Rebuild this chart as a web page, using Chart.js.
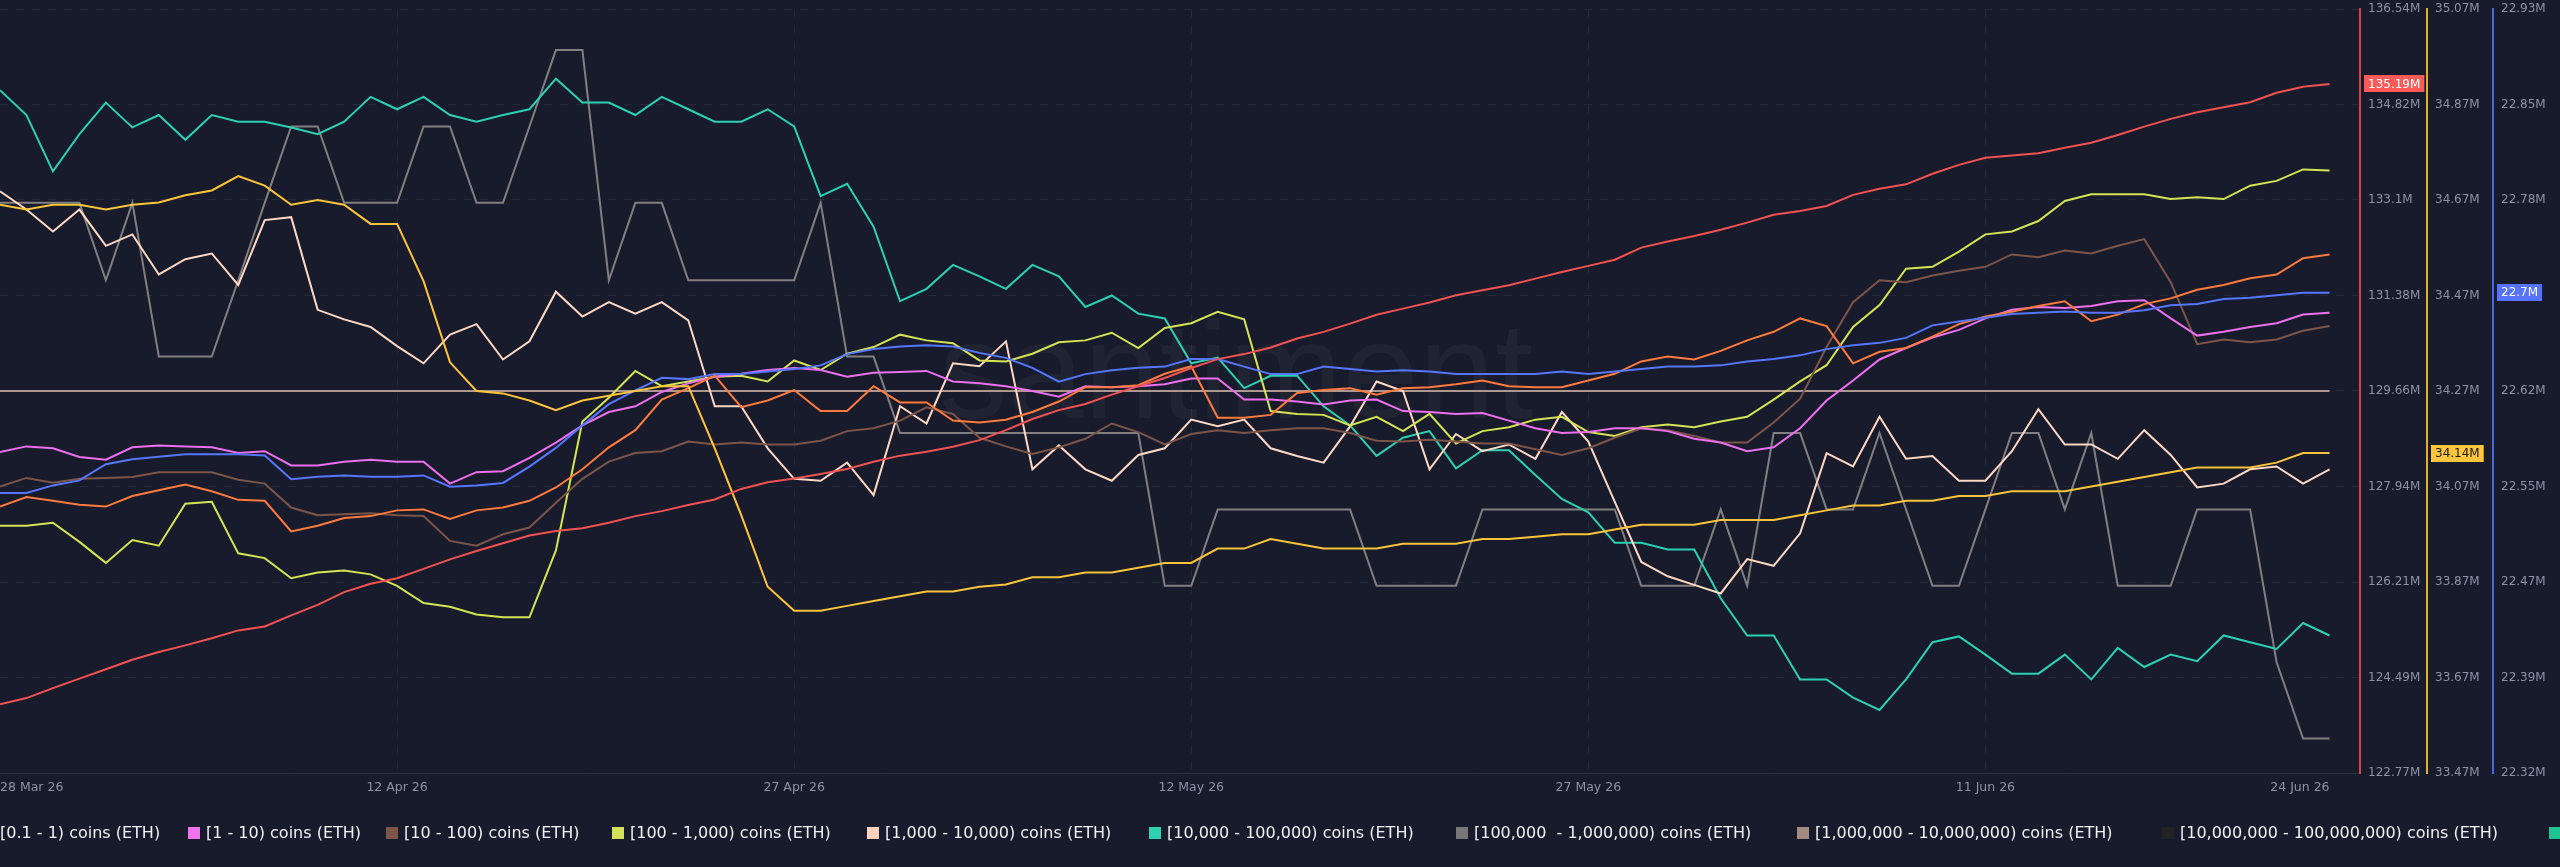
<!DOCTYPE html>
<html><head><meta charset="utf-8">
<script src="https://cdn.jsdelivr.net/npm/chart.js@4.4.1/dist/chart.umd.min.js"></script>
<style>
html,body{margin:0;padding:0;background:#181b2b;overflow:hidden;}
#wrap{position:relative;width:2560px;height:867px;background:#181b2b;}
#c{position:absolute;left:0;top:0;}
#legend{position:absolute;left:0;top:0;width:2560px;height:867px;pointer-events:none;font-family:"DejaVu Sans",sans-serif;font-size:16px;color:#f0f1f5;overflow:hidden;}
.lt{position:absolute;top:824px;white-space:pre;line-height:18px;}
.lb{position:absolute;top:827px;width:12px;height:12px;box-sizing:border-box;}
</style></head>
<body>
<div id="wrap">
<canvas id="c" width="2560" height="867"></canvas>
<div id="legend"></div>
</div>
<script>
// ---- x axis (day index from 28 Mar 26) ----
const xTickDays = [0, 15, 30, 45, 60, 75, 88];
const xTickLabels = ['28 Mar 26', '12 Apr 26', '27 Apr 26', '12 May 26', '27 May 26', '11 Jun 26', '24 Jun 26'];

// ---- right axis tick labels ----
const redTicks = ['122.77M','124.49M','126.21M','127.94M','129.66M','131.38M','133.1M','134.82M','136.54M'];
const goldTicks = ['33.47M','33.67M','33.87M','34.07M','34.27M','34.47M','34.67M','34.87M','35.07M'];
const blueTicks = ['22.32M','22.39M','22.47M','22.55M','22.62M','22.7M','22.78M','22.85M','22.93M'];

// ---- series on visible axes (millions of ETH) ----
const redSeries = [124.01,124.12,124.30,124.47,124.64,124.81,124.95,125.07,125.20,125.34,
125.41,125.61,125.80,126.03,126.18,126.28,126.45,126.62,126.77,126.91,
127.05,127.13,127.18,127.28,127.40,127.49,127.60,127.70,127.89,128.01,
128.08,128.16,128.25,128.38,128.49,128.56,128.65,128.77,128.95,129.15,
129.31,129.42,129.59,129.74,129.89,130.07,130.23,130.32,130.44,130.60,
130.72,130.87,131.03,131.14,131.25,131.38,131.47,131.56,131.68,131.80,
131.91,132.02,132.24,132.35,132.45,132.56,132.69,132.83,132.90,132.99,
133.19,133.30,133.38,133.57,133.73,133.86,133.90,133.94,134.04,134.13,
134.27,134.42,134.56,134.68,134.77,134.86,135.03,135.14,135.19];

const goldSeries = [34.66,34.65,34.66,34.66,34.65,34.66,34.665,34.68,34.69,34.72,
34.70,34.66,34.67,34.66,34.62,34.62,34.50,34.33,34.27,34.265,
34.25,34.23,34.25,34.26,34.27,34.28,34.28,34.15,34.01,33.86,
33.81,33.81,33.82,33.83,33.84,33.85,33.85,33.86,33.865,33.88,
33.88,33.89,33.89,33.90,33.91,33.91,33.94,33.94,33.96,33.95,
33.94,33.94,33.94,33.95,33.95,33.95,33.96,33.96,33.965,33.97,
33.97,33.98,33.99,33.99,33.99,34.00,34.00,34.00,34.01,34.02,
34.03,34.03,34.04,34.04,34.05,34.05,34.06,34.06,34.06,34.07,
34.08,34.09,34.10,34.11,34.11,34.11,34.12,34.14,34.14];

const blueSeries = [22.542,22.542,22.548,22.552,22.565,22.569,22.571,22.573,22.573,22.573,
22.572,22.553,22.555,22.556,22.555,22.555,22.556,22.547,22.548,22.550,
22.563,22.578,22.596,22.613,22.624,22.634,22.633,22.637,22.637,22.639,
22.641,22.644,22.653,22.657,22.659,22.660,22.659,22.654,22.650,22.642,
22.631,22.637,22.640,22.642,22.643,22.649,22.649,22.643,22.637,22.637,
22.643,22.641,22.639,22.640,22.639,22.637,22.637,22.637,22.637,22.639,
22.637,22.639,22.641,22.643,22.643,22.644,22.647,22.649,22.652,22.657,
22.660,22.662,22.666,22.676,22.679,22.682,22.685,22.686,22.687,22.686,
22.686,22.688,22.692,22.693,22.697,22.698,22.700,22.702,22.702];

// ---- series on hidden auto-scaled axes (relative level, 0 = bottom, 8 = top) ----
const orangeSeries = [2.79,2.89,2.85,2.81,2.79,2.90,2.96,3.02,2.95,2.86,
2.85,2.53,2.59,2.67,2.69,2.75,2.76,2.66,2.75,2.78,
2.85,2.99,3.18,3.41,3.59,3.91,4.03,4.16,3.83,3.90,
4.01,3.79,3.79,4.05,3.88,3.88,3.69,3.67,3.70,3.78,
3.89,4.04,4.04,4.06,4.18,4.26,3.72,3.72,3.75,3.98,
4.01,4.03,3.96,4.03,4.04,4.07,4.11,4.05,4.04,4.04,
4.11,4.18,4.31,4.36,4.33,4.42,4.53,4.62,4.76,4.68,
4.29,4.41,4.45,4.57,4.70,4.78,4.83,4.89,4.94,4.73,
4.80,4.91,4.97,5.06,5.11,5.18,5.22,5.39,5.43];

const pinkSeries = [3.36,3.42,3.40,3.31,3.28,3.41,3.43,3.42,3.41,3.35,
3.37,3.22,3.22,3.26,3.28,3.26,3.26,3.03,3.15,3.16,
3.30,3.46,3.64,3.78,3.84,3.99,4.08,4.15,4.18,4.22,
4.24,4.22,4.15,4.19,4.20,4.21,4.10,4.08,4.05,4.00,
3.94,4.05,4.04,4.05,4.07,4.13,4.13,3.91,3.91,3.89,
3.86,3.90,3.91,3.79,3.78,3.76,3.77,3.69,3.61,3.56,
3.57,3.61,3.61,3.58,3.50,3.46,3.37,3.41,3.61,3.90,
4.11,4.33,4.45,4.56,4.64,4.76,4.85,4.88,4.87,4.89,
4.94,4.95,4.76,4.58,4.62,4.67,4.71,4.80,4.82];

const brownSeries = [3.00,3.09,3.04,3.08,3.09,3.10,3.15,3.15,3.15,3.07,
3.03,2.78,2.70,2.71,2.72,2.70,2.69,2.43,2.38,2.50,
2.57,2.83,3.08,3.26,3.35,3.37,3.47,3.44,3.46,3.44,
3.44,3.48,3.58,3.61,3.69,3.83,3.76,3.51,3.42,3.34,
3.41,3.50,3.66,3.57,3.44,3.55,3.59,3.56,3.59,3.61,
3.61,3.56,3.48,3.47,3.49,3.47,3.45,3.45,3.39,3.33,
3.40,3.51,3.61,3.59,3.53,3.46,3.46,3.67,3.92,4.46,
4.93,5.16,5.14,5.21,5.26,5.30,5.43,5.40,5.47,5.44,
5.52,5.59,5.14,4.49,4.54,4.51,4.54,4.63,4.68];

const limeSeries = [2.59,2.59,2.62,2.42,2.20,2.44,2.38,2.82,2.84,2.30,
2.25,2.04,2.10,2.12,2.08,1.96,1.78,1.74,1.66,1.63,
1.63,2.33,3.68,3.93,4.21,4.05,4.10,4.15,4.16,4.10,
4.32,4.22,4.39,4.46,4.59,4.53,4.50,4.32,4.31,4.39,
4.51,4.53,4.61,4.45,4.66,4.71,4.83,4.75,3.79,3.76,
3.75,3.64,3.73,3.58,3.76,3.45,3.58,3.62,3.70,3.73,
3.57,3.53,3.62,3.65,3.62,3.68,3.73,3.91,4.10,4.27,
4.67,4.90,5.28,5.30,5.46,5.64,5.67,5.78,5.99,6.06,
6.06,6.06,6.01,6.03,6.01,6.15,6.20,6.32,6.31];

const peachSeries = [6.09,5.90,5.67,5.90,5.52,5.64,5.22,5.38,5.44,5.11,
5.79,5.82,4.85,4.75,4.67,4.47,4.29,4.59,4.70,4.33,
4.52,5.04,4.78,4.93,4.81,4.93,4.74,3.84,3.84,3.40,
3.08,3.06,3.25,2.91,3.84,3.66,4.29,4.26,4.52,3.18,
3.43,3.18,3.06,3.33,3.40,3.70,3.63,3.70,3.40,3.32,
3.25,3.63,4.10,4.00,3.18,3.55,3.37,3.44,3.29,3.78,
3.47,2.84,2.21,2.06,1.97,1.88,2.24,2.17,2.51,3.35,
3.21,3.73,3.29,3.32,3.06,3.06,3.37,3.81,3.44,3.44,
3.29,3.59,3.33,2.99,3.03,3.18,3.21,3.03,3.18];

const tealSeries = [7.15,6.89,6.30,6.69,7.02,6.76,6.89,6.63,6.89,6.82,
6.82,6.76,6.69,6.82,7.08,6.95,7.08,6.89,6.82,6.89,
6.95,7.27,7.02,7.02,6.89,7.08,6.95,6.82,6.82,6.95,
6.77,6.04,6.17,5.72,4.94,5.07,5.32,5.20,5.07,5.32,
5.20,4.88,5.00,4.81,4.76,4.29,4.35,4.03,4.16,4.16,
3.84,3.64,3.32,3.51,3.58,3.19,3.38,3.38,3.12,2.87,
2.73,2.41,2.41,2.34,2.34,1.83,1.44,1.44,0.98,0.98,
0.79,0.66,0.98,1.37,1.43,1.24,1.04,1.04,1.24,0.98,
1.31,1.11,1.24,1.17,1.44,1.37,1.30,1.57,1.44];

const graySeries = [5.97,5.97,5.97,5.97,5.16,5.97,4.36,4.36,4.36,5.16,
5.97,6.77,6.77,5.97,5.97,5.97,6.77,6.77,5.97,5.97,
6.77,7.57,7.57,5.16,5.97,5.97,5.16,5.16,5.16,5.16,
5.16,5.97,4.36,4.36,3.56,3.56,3.56,3.56,3.56,3.56,
3.56,3.56,3.56,3.56,1.96,1.96,2.76,2.76,2.76,2.76,
2.76,2.76,1.96,1.96,1.96,1.96,2.76,2.76,2.76,2.76,
2.76,2.76,1.96,1.96,1.96,2.76,1.96,3.56,3.56,2.76,
2.76,3.56,2.76,1.96,1.96,2.76,3.56,3.56,2.76,3.56,
1.96,1.96,1.96,2.76,2.76,2.76,1.16,0.36,0.36];

const tanSeries = [4,4,4,4,4,4,4,4,4,4,
4,4,4,4,4,4,4,4,4,4,
4,4,4,4,4,4,4,4,4,4,
4,4,4,4,4,4,4,4,4,4,
4,4,4,4,4,4,4,4,4,4,
4,4,4,4,4,4,4,4,4,4,
4,4,4,4,4,4,4,4,4,4,
4,4,4,4,4,4,4,4,4,4,
4,4,4,4,4,4,4,4,4];

// ---- legend (visible part of a scrolled legend strip) ----
const legendLabels = ['[0.1 - 1) coins (ETH)','[1 - 10) coins (ETH)','[10 - 100) coins (ETH)','[100 - 1,000) coins (ETH)',
  '[1,000 - 10,000) coins (ETH)','[10,000 - 100,000) coins (ETH)','[100,000  - 1,000,000) coins (ETH)',
  '[1,000,000 - 10,000,000) coins (ETH)','[10,000,000 - 100,000,000) coins (ETH)', ''];
const legendColors = ['#ff7a3d','#ef72ef','#7a5548','#d4e157','#ffd2bd','#2cd3b3','#777777','#a48a82','#232323','#1fc394'];
const legendBoxX = [-18, 188, 386, 612, 867, 1149, 1456, 1797, 2162, 2549];

const C = {
  red:'#f25252', gold:'#ffc53a', blue:'#5577ff', orange:'#ff7a3d', pink:'#ee6ff0', brown:'#7d5548',
  lime:'#d6e454', peach:'#ffd8c4', teal:'#2bd1b0', gray:'#808080', tan:'#ae978f',
  grid:'#252a3b', tick:'#8c92a4'
};

const toXY = arr => arr.map((v, i) => ({x: i, y: v}));
function ds(label, data, color, axis) {
  return {label, data: toXY(data), borderColor: color, backgroundColor: color, yAxisID: axis,
    borderWidth: 2, pointRadius: 0, tension: 0, fill: false};
}

// legend build
const lg = document.getElementById('legend');
legendLabels.forEach((t, i) => {
  const b = document.createElement('div');
  b.className = 'lb'; b.style.left = legendBoxX[i] + 'px'; b.style.background = legendColors[i];
  lg.appendChild(b);
  if (t) {
    const s = document.createElement('div');
    s.className = 'lt'; s.style.left = (legendBoxX[i] + 18) + 'px'; s.textContent = t;
    lg.appendChild(s);
  }
});

const fmtM = v => parseFloat(v.toFixed(2)) + 'M';

const tagPlugin = {
  id: 'tags',
  afterDraw(chart) {
    const ctx = chart.ctx;
    const defs = [
      {axis: 'yRed', v: redSeries[redSeries.length - 1], bg: '#ff5a5a', fg: '#ffffff'},
      {axis: 'yGold', v: goldSeries[goldSeries.length - 1], bg: '#ffc53d', fg: '#15171f'},
      {axis: 'yBlue', v: blueSeries[blueSeries.length - 1], bg: '#5573ff', fg: '#ffffff'}
    ];
    ctx.save();
    ctx.font = '12px "DejaVu Sans"';
    ctx.textBaseline = 'middle';
    defs.forEach(d => {
      const s = chart.scales[d.axis];
      const y = s.getPixelForValue(d.v);
      const txt = fmtM(d.v);
      const w = ctx.measureText(txt).width + 8;
      const x = s.left + 4;
      ctx.fillStyle = d.bg;
      ctx.fillRect(x, Math.round(y - 8.5), w, 17);
      ctx.fillStyle = d.fg;
      ctx.fillText(txt, x + 4, y + 0.5);
    });
    ctx.restore();
  }
};

const watermark = {
  id: 'watermark',
  beforeDatasetsDraw(chart) {
    const ctx = chart.ctx;
    ctx.save();
    ctx.font = '137px "Liberation Sans"';
    ctx.fillStyle = 'rgba(255,255,255,0.035)';
    ctx.textAlign = 'center';
    ctx.textBaseline = 'alphabetic';
    ctx.fillText('santiment', 1236, 418);
    ctx.restore();
  }
};

function rightAxis(min, max, labels, border, weight, width, grid) {
  return {
    position: 'right', weight, min, max,
    afterBuildTicks: s => { s.ticks = labels.map((t, i) => ({value: min + i * (max - min) / 8})); },
    ticks: {callback: (v, i) => labels[i], color: C.tick, font: {family: 'DejaVu Sans', size: 12}, padding: 0, autoSkip: false},
    grid: grid ? {display: true, drawOnChartArea: true, color: C.grid, drawTicks: true, tickLength: 8, tickColor: 'rgba(0,0,0,0)'}
               : {display: true, drawOnChartArea: false, drawTicks: true, tickLength: 8, tickColor: 'rgba(0,0,0,0)'},
    border: {display: true, color: border, width: 2, dash: [8, 8]},
    afterFit: s => { s.width = width; }
  };
}

new Chart(document.getElementById('c'), {
  type: 'line',
  data: {
    datasets: [
      ds('[0 - 0.001) coins (ETH)', redSeries, C.red, 'yRed'),
      ds('[0.001 - 0.01) coins (ETH)', goldSeries, C.gold, 'yGold'),
      ds('[0.01 - 0.1) coins (ETH)', blueSeries, C.blue, 'yBlue'),
      ds('[0.1 - 1) coins (ETH)', orangeSeries, C.orange, 'yRel'),
      ds('[1 - 10) coins (ETH)', pinkSeries, C.pink, 'yRel'),
      ds('[10 - 100) coins (ETH)', brownSeries, C.brown, 'yRel'),
      ds('[100 - 1,000) coins (ETH)', limeSeries, C.lime, 'yRel'),
      ds('[1,000 - 10,000) coins (ETH)', peachSeries, C.peach, 'yRel'),
      ds('[10,000 - 100,000) coins (ETH)', tealSeries, C.teal, 'yRel'),
      ds('[100,000  - 1,000,000) coins (ETH)', graySeries, C.gray, 'yRel'),
      ds('[1,000,000 - 10,000,000) coins (ETH)', tanSeries, C.tan, 'yRel')
    ]
  },
  options: {
    responsive: false, animation: false, devicePixelRatio: 1,
    layout: {padding: {top: 9, left: 0, right: 0, bottom: 0}},
    plugins: {legend: {display: false}, tooltip: {enabled: false}},
    scales: {
      x: {
        type: 'linear', min: 0, max: 89.15,
        afterBuildTicks: s => { s.ticks = xTickDays.map(v => ({value: v})); },
        ticks: {callback: (v, i) => xTickLabels[i], color: C.tick, font: {family: 'DejaVu Sans', size: 12.5},
                align: 'inner', padding: 0, maxRotation: 0, autoSkip: false},
        grid: {color: c => (c.index === 0 || c.index === xTickDays.length - 1) ? 'rgba(0,0,0,0)' : C.grid,
               drawTicks: true, tickLength: 7, tickColor: 'rgba(0,0,0,0)'},
        border: {display: true, color: '#2b3043', width: 1, dash: [8, 8]},
        afterFit: s => { s.height = 94; }
      },
      yRed: rightAxis(122.77, 136.54, redTicks, '#d24848', 0, 67, true),
      yGold: rightAxis(33.47, 35.07, goldTicks, '#e4ad2a', 1, 66, false),
      yBlue: rightAxis(22.318, 22.929, blueTicks, '#4a66d8', 2, 67, false),
      yRel: {display: false, min: 0, max: 8}
    }
  },
  plugins: [watermark, tagPlugin]
});
</script>
</body></html>
